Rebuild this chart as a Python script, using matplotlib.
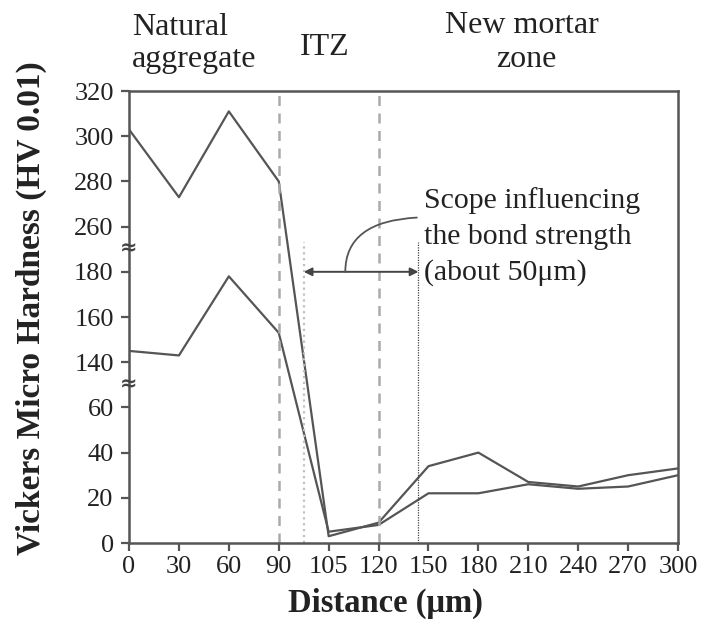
import numpy as np
import matplotlib
matplotlib.use("Agg")
import matplotlib.pyplot as plt

plt.rcParams['font.family'] = ['Liberation Serif', 'DejaVu Serif']

# data
distance = [0, 30, 60, 90, 105, 120, 150, 180, 210, 240, 270, 300]
hv_upper = [303, 273, 311, 280, 3, 9, 34, 40, 27, 25, 30, 33]
hv_lower = [145, 143, 178, 153, 5, 8, 22, 22, 26, 24, 25, 30]

y_ticks = [0, 20, 40, 60, 140, 160, 180, 260, 280, 300, 320]
x_labels = [str(d) for d in distance]
note_lines = ['Scope influencing', 'the bond strength', '(about 50\u03bcm)']

# broken y axis: value -> even slot positions
y_src = [0, 60, 140, 180, 260, 320]
y_dst = [0, 3, 4, 6, 7, 10]
x_src = distance
x_dst = list(range(len(distance)))


def piecewise(src, dst):
    src = np.asarray(src, float)
    dst = np.asarray(dst, float)

    def f(v):
        v = np.asarray(v, float)
        out = np.interp(v, src, dst)
        lo = dst[0] + (v - src[0]) * (dst[1] - dst[0]) / (src[1] - src[0])
        hi = dst[-1] + (v - src[-1]) * (dst[-1] - dst[-2]) / (src[-1] - src[-2])
        out = np.where(v < src[0], lo, out)
        out = np.where(v > src[-1], hi, out)
        return out
    return f


fig = plt.figure(figsize=(7.07, 6.23), dpi=100)
ax = fig.add_axes([0.1825, 0.1284, 0.7765, 0.7255])

ax.set_yscale('function', functions=(piecewise(y_src, y_dst), piecewise(y_dst, y_src)))
ax.set_xscale('function', functions=(piecewise(x_src, x_dst), piecewise(x_dst, x_src)))

line_c = '#555555'
ax.plot(distance, hv_upper, color=line_c, lw=1.6)
ax.plot(distance, hv_lower, color=line_c, lw=1.6)

# zone boundaries
for xv in (90, 120):
    ax.vlines(xv, 0, 320, colors='#aaaaaa', linestyles=(0, (4, 3)), lw=1.8)
ax.vlines(97.5, 0, 232, colors='#c0c0c0', linestyles=':', lw=1.6)
ax.vlines(144, 0, 232, colors='#444444', linestyles=(0, (1, 1)), lw=0.9)

ax.annotate('', xy=(97.5, 180), xytext=(144, 180),
            arrowprops=dict(arrowstyle='<|-|>', color='#444444', lw=1.4,
                            shrinkA=0, shrinkB=0, mutation_scale=12))
ax.annotate('', xy=(143, 264), xytext=(110, 180),
            arrowprops=dict(arrowstyle='-', color='#555555', lw=1.3,
                            shrinkA=0, shrinkB=0,
                            connectionstyle='angle3,angleA=90,angleB=3'))

# note text, one line at a time (baselines in pixels from top)
for txt, yb in zip(note_lines, [208, 244, 280]):
    fig.text(424 / 707, 1 - yb / 623, txt, ha='left', va='baseline',
             fontsize=21.5, color='#222222')

ax.set_xlim(0, 300)
ax.set_ylim(0, 320)
ax.set_xticks(distance)
ax.set_xticklabels(x_labels)
ax.set_yticks(y_ticks)
ax.set_yticklabels([str(t) for t in y_ticks])
ax.minorticks_off()
ax.tick_params(labelsize=19, colors='#555555', labelcolor='#222222',
               width=1.6, length=6, direction='out')
ax.tick_params(axis='y', pad=5)
for s in ax.spines.values():
    s.set_color('#555555')
    s.set_linewidth(1.8)

# break marks on the y axis
for yb in (100, 222):
    ax.text(0, yb, '\u2248', transform=ax.get_yaxis_transform(), ha='center',
            va='center', fontsize=15, fontweight='bold', color='#444444',
            family='DejaVu Sans')

# zone labels
fig.text(132 / 707, 1 - 35 / 623, 'Natural', ha='left', va='baseline',
         fontsize=23, color='#222222')
fig.text(132 / 707, 1 - 67 / 623, 'aggregate', ha='left', va='baseline',
         fontsize=23, color='#222222')
fig.text(325 / 707, 1 - 55 / 623, 'ITZ', ha='center', va='baseline',
         fontsize=23, color='#222222')
fig.text(522 / 707, 1 - 33 / 623, 'New mortar', ha='center', va='baseline',
         fontsize=23, color='#222222')
fig.text(526 / 707, 1 - 67 / 623, 'zone', ha='center', va='baseline',
         fontsize=23, color='#222222')

fig.text(31 / 707, 1 - 308 / 623, 'Vickers Micro Hardness (HV 0.01)', rotation=90,
         ha='center', va='center', fontsize=24, fontweight='bold', color='#222222')
fig.text(385 / 707, 1 - 603 / 623, 'Distance (\u03bcm)', ha='center', va='center',
         fontsize=23.5, fontweight='bold', color='#222222')

fig.savefig('out.png', dpi=100)
